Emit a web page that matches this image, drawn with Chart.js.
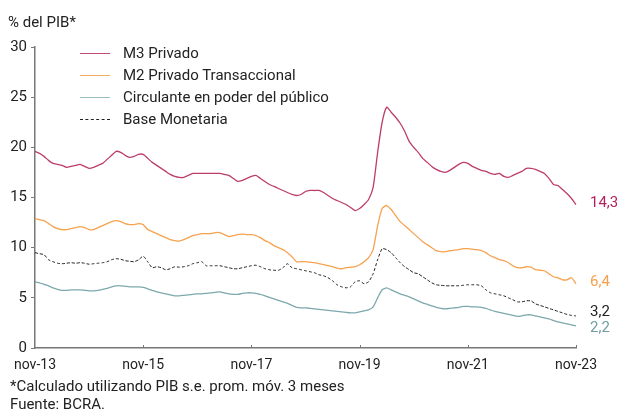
<!DOCTYPE html>
<html>
<head>
<meta charset="utf-8">
<script src="https://cdn.jsdelivr.net/npm/chart.js@4/dist/chart.umd.min.js"></script>
<style>
  html, body { margin: 0; padding: 0; background: #fff; }
  #wrap { position: relative; width: 617px; height: 409px; font-family: Roboto, sans-serif; color: #222; }
  #wrap canvas { position: absolute; left: 0; top: 0; }
  .txt { position: absolute; white-space: nowrap; font-size: 15px; line-height: 18px; }
  .leg { position: absolute; left: 80px; height: 18px; font-size: 15px; line-height: 18px; white-space: nowrap; }
  .leg i { position: absolute; left: 0; top: 9px; width: 30px; height: 0; border-top: 1.5px solid; }
  .leg span { position: absolute; left: 43px; top: 0; }
</style>
</head>
<body>
<div id="wrap">
  <canvas id="c" width="617" height="409"></canvas>
  <div class="txt" style="left:8px;top:13px">% del PIB*</div>
  <div class="leg" style="top:44px"><i style="border-color:#C24A78"></i><span>M3 Privado</span></div>
  <div class="leg" style="top:66px"><i style="border-color:#F8AE62"></i><span>M2 Privado Transaccional</span></div>
  <div class="leg" style="top:88px"><i style="border-color:#9BBDC1"></i><span>Circulante en poder del público</span></div>
  <div class="leg" style="top:110px"><i style="border-color:#222;border-top:1px dashed #222"></i><span>Base Monetaria</span></div>
  <div class="txt" style="left:10px;top:377px">*Calculado utilizando PIB s.e. prom. móv. 3 meses</div>
  <div class="txt" style="left:10px;top:395px">Fuente: BCRA.</div>
</div>
<script>
// meses nov-13 .. nov-23
const MESES = ['ene', 'feb', 'mar', 'abr', 'may', 'jun', 'jul', 'ago', 'sep', 'oct', 'nov', 'dic'];
const labels = [];
for (let i = 0; i <= 120; i++) {
  const m = (10 + i) % 12;
  const y = 13 + Math.floor((10 + i) / 12);
  labels.push(`${MESES[m]}-${y}`);
}
const TICK_LABELS = ['nov-13', 'nov-15', 'nov-17', 'nov-19', 'nov-21', 'nov-23'];

const m3Privado = [
  19.6, 19.4, 19.1, 18.7, 18.4, 18.3, 18.2, 18.0, 18.1, 18.2, 18.3, 18.1,
  17.9, 18.0, 18.2, 18.4, 18.8, 19.2, 19.6, 19.5, 19.2, 19.0, 19.1, 19.3,
  19.3, 18.9, 18.5, 18.2, 17.9, 17.6, 17.3, 17.1, 17.0, 17.0, 17.2, 17.4,
  17.4, 17.4, 17.4, 17.4, 17.4, 17.4, 17.3, 17.2, 16.9, 16.6, 16.7, 16.9,
  17.1, 17.2, 16.9, 16.6, 16.3, 16.1, 15.9, 15.7, 15.5, 15.3, 15.2, 15.3,
  15.6, 15.7, 15.7, 15.7, 15.5, 15.2, 14.9, 14.7, 14.5, 14.3, 14.0, 13.7,
  13.9, 14.3, 14.8, 16.0, 19.5, 22.5, 24.0, 23.5, 23.0, 22.4, 21.6, 20.6,
  20.0, 19.5, 18.9, 18.5, 18.1, 17.8, 17.6, 17.5, 17.7, 18.0, 18.3, 18.5,
  18.4, 18.1, 17.9, 17.7, 17.6, 17.4, 17.3, 17.4, 17.1, 17.0, 17.2, 17.4,
  17.6, 17.9, 17.9, 17.8, 17.6, 17.4, 16.9, 16.3, 16.2, 15.8, 15.4, 14.9,
  14.3,
];
const m2Transaccional = [
  12.9, 12.8, 12.7, 12.4, 12.1, 11.9, 11.8, 11.8, 11.9, 12.0, 12.1, 12.0,
  11.8, 11.8, 12.0, 12.2, 12.4, 12.6, 12.7, 12.6, 12.4, 12.3, 12.3, 12.4,
  12.3, 11.8, 11.6, 11.4, 11.2, 11.0, 10.8, 10.7, 10.65, 10.8, 11.0, 11.2,
  11.3, 11.4, 11.4, 11.4, 11.5, 11.5, 11.3, 11.1, 11.2, 11.3, 11.35, 11.3,
  11.3, 11.2, 11.0, 10.7, 10.5, 10.2, 10.0, 9.8, 9.5, 9.1, 8.6, 8.6,
  8.6, 8.55, 8.5, 8.4, 8.3, 8.2, 8.1, 7.95, 7.9, 8.0, 8.05, 8.1,
  8.3, 8.6, 9.0, 9.8, 12.2, 13.9, 14.2, 13.8, 13.2, 12.6, 12.2, 11.8,
  11.4, 11.0, 10.6, 10.3, 10.0, 9.7, 9.6, 9.6, 9.7, 9.75, 9.8, 9.9,
  9.9, 9.85, 9.8, 9.7, 9.5, 9.2, 9.0, 8.8, 8.7, 8.5, 8.2, 8.0,
  8.0, 8.1, 8.05, 7.8, 7.75, 7.7, 7.4, 7.1, 7.0, 6.8, 6.8, 7.0,
  6.4,
];
const circulante = [
  6.6, 6.5, 6.35, 6.2, 6.0, 5.85, 5.75, 5.75, 5.8, 5.8, 5.8, 5.75,
  5.7, 5.7, 5.75, 5.85, 5.95, 6.1, 6.2, 6.2, 6.15, 6.1, 6.1, 6.1,
  6.05, 5.9, 5.75, 5.6, 5.5, 5.4, 5.3, 5.2, 5.2, 5.25, 5.3, 5.35,
  5.4, 5.4, 5.45, 5.5, 5.55, 5.6, 5.5, 5.4, 5.35, 5.35, 5.45, 5.5,
  5.5, 5.45, 5.35, 5.2, 5.05, 4.9, 4.75, 4.6, 4.45, 4.25, 4.05, 4.0,
  4.0, 3.95, 3.9, 3.85, 3.8, 3.75, 3.7, 3.65, 3.6, 3.55, 3.5, 3.5,
  3.6, 3.7, 3.8, 4.1, 5.0, 5.8, 6.0, 5.8, 5.6, 5.4, 5.25, 5.1,
  4.9, 4.7, 4.5, 4.35, 4.2, 4.05, 3.95, 3.9, 3.95, 4.0, 4.05, 4.15,
  4.15, 4.1, 4.1, 4.05, 3.95, 3.8, 3.65, 3.55, 3.45, 3.35, 3.25, 3.15,
  3.2, 3.3, 3.3, 3.2, 3.1, 3.0, 2.9, 2.75, 2.6, 2.5, 2.4, 2.3,
  2.2,
];
const baseMonetaria = [
  9.5, 9.4, 9.3, 8.8, 8.6, 8.45, 8.4, 8.45, 8.5, 8.45, 8.5, 8.45,
  8.35, 8.4, 8.45, 8.5, 8.6, 8.8, 8.9, 8.85, 8.7, 8.65, 8.6, 8.8,
  9.15, 8.6, 8.0, 8.1, 8.0, 7.8, 7.9, 8.1, 8.05, 8.1, 8.2, 8.4,
  8.5, 8.6, 8.2, 8.2, 8.2, 8.2, 8.1, 8.0, 7.9, 7.9, 8.0, 8.1,
  8.2, 8.25, 8.1, 7.9, 7.8, 7.75, 7.75, 8.0, 8.4, 8.0, 7.9, 7.8,
  7.7, 7.6, 7.5, 7.3, 7.2, 7.0, 6.7, 6.3, 6.1, 6.0, 6.1, 6.6,
  6.7, 6.4, 6.6, 7.4, 8.8, 9.9, 9.8, 9.5, 9.0, 8.5, 8.1, 7.8,
  7.5, 7.4, 7.1, 6.8, 6.5, 6.3, 6.25, 6.2, 6.2, 6.2, 6.2, 6.25,
  6.3, 6.3, 6.3, 6.2, 5.8, 5.5, 5.4, 5.3, 5.2, 5.0, 4.8, 4.6,
  4.6, 4.7, 4.7, 4.4, 4.25, 4.1, 3.95, 3.8, 3.65, 3.5, 3.35, 3.25,
  3.2,
];

const endLabels = [
  { ds: 0, text: '14,3', color: '#B51F5C', dy: -1 },
  { ds: 1, text: '6,4', color: '#F5A04A', dy: -2 },
  { ds: 3, text: '3,2', color: '#222222', dy: -4 },
  { ds: 2, text: '2,2', color: '#6E9DA3', dy: 2 },
];

const axisMarks = {
  id: 'axisMarks',
  afterDraw(chart) {
    const { ctx, chartArea: a, scales: { x, y } } = chart;
    ctx.save();
    ctx.strokeStyle = '#777';
    ctx.lineWidth = 1;
    ctx.beginPath();
    labels.forEach((l, i) => {
      if (i % 24 !== 0 || i === 0) return;
      const px = Math.round(x.getPixelForValue(i)) + 0.5;
      ctx.moveTo(px, a.bottom);
      ctx.lineTo(px, a.bottom - 3);
    });
    ctx.stroke();
    ctx.font = '15px Roboto';
    ctx.textBaseline = 'middle';
    ctx.textAlign = 'left';
    endLabels.forEach(e => {
      const data = chart.data.datasets[e.ds].data;
      const py = y.getPixelForValue(data[data.length - 1]) + e.dy;
      ctx.fillStyle = e.color;
      ctx.fillText(e.text, a.right + 14, py);
    });
    ctx.restore();
  },
};

new Chart(document.getElementById('c'), {
  type: 'line',
  data: {
    labels,
    datasets: [
      { label: 'M3 Privado', data: m3Privado, borderColor: '#BC3D6C', borderWidth: 1.3 },
      { label: 'M2 Privado Transaccional', data: m2Transaccional, borderColor: '#F6A24E', borderWidth: 1.3 },
      { label: 'Circulante en poder del público', data: circulante, borderColor: '#7DA8AD', borderWidth: 1.3 },
      { label: 'Base Monetaria', data: baseMonetaria, borderColor: '#222', borderWidth: 1, borderDash: [3, 2] },
    ],
  },
  options: {
    responsive: false,
    animation: false,
    events: [],
    elements: { point: { radius: 0 }, line: { tension: 0.2 } },
    layout: { padding: { left: 0, top: 47, right: 41, bottom: 37 } },
    plugins: { legend: { display: false }, tooltip: { enabled: false } },
    scales: {
      x: {
        offset: false,
        grid: { display: false, drawTicks: false },
        border: { color: '#777', width: 1.5 },
        ticks: {
          autoSkip: false,
          maxRotation: 0,
          padding: 9,
          color: '#222',
          font: { family: 'Roboto', size: 14 },
          callback: (v, i) => (TICK_LABELS.includes(labels[i]) && i % 24 === 0 ? labels[i] : null),
        },
        afterFit: s => { s.height = 24; },
      },
      y: {
        min: 0,
        max: 30,
        grid: { drawOnChartArea: false, drawTicks: true, tickLength: 4, color: '#777' },
        border: { color: '#777', width: 1.5 },
        ticks: { stepSize: 5, padding: 4, color: '#222', font: { family: 'Roboto', size: 15 } },
        afterFit: s => { s.width = 35; },
      },
    },
  },
  plugins: [axisMarks],
});
</script>
</body>
</html>
